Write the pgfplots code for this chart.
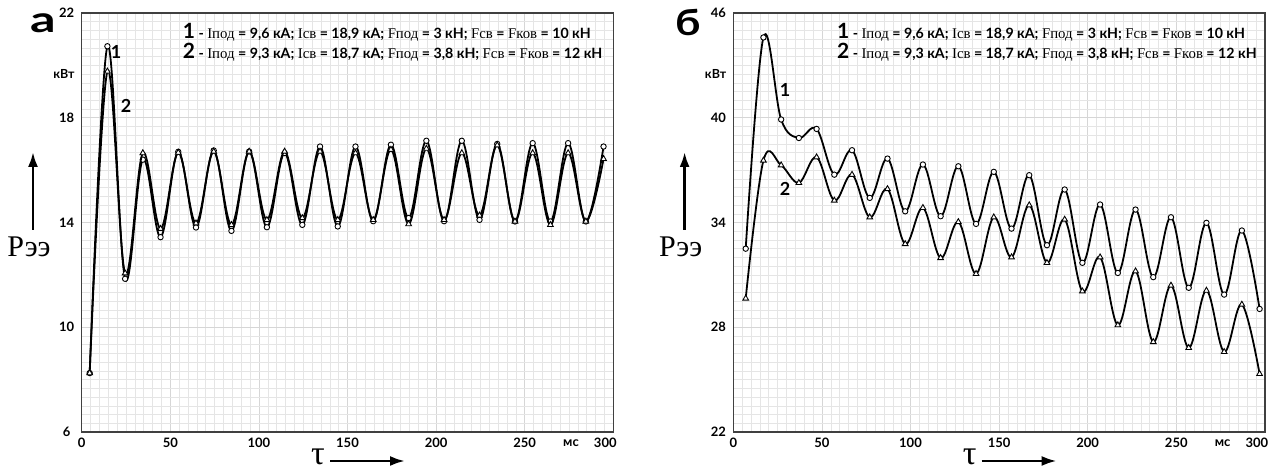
\documentclass[border=0pt]{standalone}
\usepackage{pgfplots}
\pgfplotsset{compat=1.18}
\usetikzlibrary{arrows.meta}
\usepackage{fontspec}
\setmainfont{Liberation Serif}
\newfontfamily\sbf{Lato}
\newcommand\Rm[1]{{\rmfamily\mdseries\fontsize{14.8}{16}\selectfont #1}}
\newcommand\Num[1]{{\fontsize{21}{21}\selectfont #1}}
\newcommand\legA{\Num{1} - \Rm{Iпод} = 9,6 кА; \Rm{Iсв} = 18,9 кА; \Rm{Fпод} = 3 кН; \Rm{Fсв} = \Rm{Fков} = 10 кН}
\newcommand\legB{\Num{2} - \Rm{Iпод} = 9,3 кА; \Rm{Iсв} = 18,7 кА; \Rm{Fпод} = 3,8 кН; \Rm{Fсв} = \Rm{Fков} = 12 кН}
\tikzset{
  lab/.style={font=\sbf\bfseries\fontsize{18}{18}\selectfont},
  leg/.style={anchor=west, inner sep=0pt, font=\sbf\bfseries\fontsize{14.2}{16}\selectfont},
}
\pgfplotsset{
  panel/.style={
    anchor=south west, scale only axis, width=531.6pt, height=419pt,
    xmin=0, xmax=300, xtick={0,50,...,300}, minor x tick num=9,
    xticklabels={0,50,100,150,200,250,\makebox[0pt]{\hspace*{-16pt}300}},
    /pgf/number format/assume math mode=true,
    grid=both,
    minor grid style={gray!20, line width=0.5pt},
    major grid style={gray!32, line width=0.7pt},
    tick style={draw=none},
    axis line style={draw=black!75, line width=1.5pt},
    ticklabel style={font=\sbf\bfseries\fontsize{13}{13}\selectfont},
    xticklabel style={anchor=center, yshift=-11pt},
    yticklabel style={anchor=center, xshift=-15pt},
    clip mode=individual,
  },
  s1/.style={black, line width=1.8pt, smooth, tension=0.6, mark=*,
    mark size=2.7pt, mark options={fill=white, draw=black, line width=0.9pt}},
  s2/.style={black, line width=1.8pt, smooth, tension=0.6, mark=triangle*,
    mark size=3.3pt, mark options={fill=white, draw=black, line width=0.9pt}},
}
\begin{document}
\begin{tikzpicture}[x=1pt,y=1pt]
\path[use as bounding box] (0,0) rectangle (1272,470);
% ---------------- panel a ----------------
\begin{axis}[panel, at={(81.7pt,38pt)}, ymin=6, ymax=22, ytick={6,10,...,22}, minor y tick num=11]
\addplot[s1] coordinates {
(4.5,8.25) (14.5,20.73) (24.5,11.85) (34.5,16.4) (44.5,13.44) (54.5,16.7)
(64.5,13.81) (74.5,16.75) (84.5,13.68) (94.5,16.71) (104.5,13.82) (114.5,16.65)
(124.5,13.91) (134.5,16.9) (144.5,13.85) (154.5,16.9) (164.5,14.05) (174.5,16.97)
(184.5,14.17) (194.5,17.12) (204.5,14.05) (214.5,17.12) (224.5,14.1) (234.5,17.0)
(244.5,14.04) (254.5,17.03) (264.5,14.04) (274.5,17.03) (284.5,14.04) (294.5,16.9)};
\addplot[s2] coordinates {
(4.5,8.25) (14.5,19.77) (24.5,12.06) (34.5,16.65) (44.5,13.76) (54.5,16.67)
(64.5,13.97) (74.5,16.71) (84.5,13.91) (94.5,16.71) (104.5,14.1) (114.5,16.71)
(124.5,14.17) (134.5,16.71) (144.5,14.1) (154.5,16.65) (164.5,14.1) (174.5,16.78)
(184.5,13.94) (194.5,16.82) (204.5,14.1) (214.5,16.65) (224.5,14.27) (234.5,16.95)
(244.5,14.04) (254.5,16.65) (264.5,13.91) (274.5,16.65) (284.5,14.04) (294.5,16.43)};
\node[lab] at (axis cs:19.4,20.52) {1};
\node[lab] at (axis cs:25,18.46) {2};
\node[leg] at (axis cs:57,21.25) {\legA};
\node[leg] at (axis cs:57,20.5) {\legB};
\end{axis}
% ---------------- panel b ----------------
\begin{axis}[panel, at={(733.3pt,38pt)}, ymin=22, ymax=46, ytick={22,28,...,46}, minor y tick num=11]
\addplot[s1] coordinates {
(7,32.5) (17,44.6) (27,39.9) (37,38.84) (47,39.36) (57,36.74) (67,38.14) (77,35.41)
(87,37.66) (97,34.64) (107,37.32) (117,34.36) (127,37.22) (137,33.92) (147,36.9)
(157,33.65) (167,36.71) (177,32.7) (187,35.89) (197,31.69) (207,35.03) (217,31.11)
(227,34.74) (237,30.87) (247,34.3) (257,30.26) (267,33.98) (277,29.87) (287,33.54) (297,29.05)};
\addplot[s2] coordinates {
(7,29.65) (17,37.55) (27,37.28) (37,36.27) (47,37.74) (57,35.26) (67,36.74) (77,34.3)
(87,35.92) (97,32.77) (107,34.84) (117,31.97) (127,34.03) (137,31.06) (147,34.3)
(157,32.01) (167,34.99) (177,31.69) (187,34.17) (197,30.06) (207,32.01) (217,28.12)
(227,31.21) (237,27.16) (247,30.39) (257,26.82) (267,30.1) (277,26.59) (287,29.3) (297,25.33)};
\node[lab] at (axis cs:29.2,41.6) {1};
\node[lab] at (axis cs:29.2,35.95) {2};
\node[leg] at (axis cs:58.5,44.87) {\legA};
\node[leg] at (axis cs:58.5,43.75) {\legB};
\end{axis}
% ---------------- outer labels ----------------
\foreach \dx/\lt/\sx/\cx in {0/а/1.4/43,651.6/б/1.2/37}{
  \begin{scope}[xshift=\dx pt]
    \node[font=\sbf\bfseries\fontsize{36}{36}\selectfont, xscale=\sx] at (\cx,447) {\lt};
    \node[font=\sbf\bfseries\fontsize{12.5}{12.5}\selectfont] at (64,396) {кВт};
    \node[font=\sbf\bfseries\fontsize{13}{13}\selectfont] at (571,27) {мс};
    \draw[line width=2.6pt, -{Latex[length=15pt,width=10pt]}] (33,240) -- (33,318);
    \node[font=\rmfamily\fontsize{30}{30}\selectfont] at (29,223) {Рээ};
    \node[font=\rmfamily\fontsize{34}{34}\selectfont, inner sep=0pt] at (318,13) {τ};
    \draw[line width=2.6pt, -{Latex[length=15pt,width=10pt]}] (330,9) -- (405,9);
  \end{scope}
}
\end{tikzpicture}
\end{document}
